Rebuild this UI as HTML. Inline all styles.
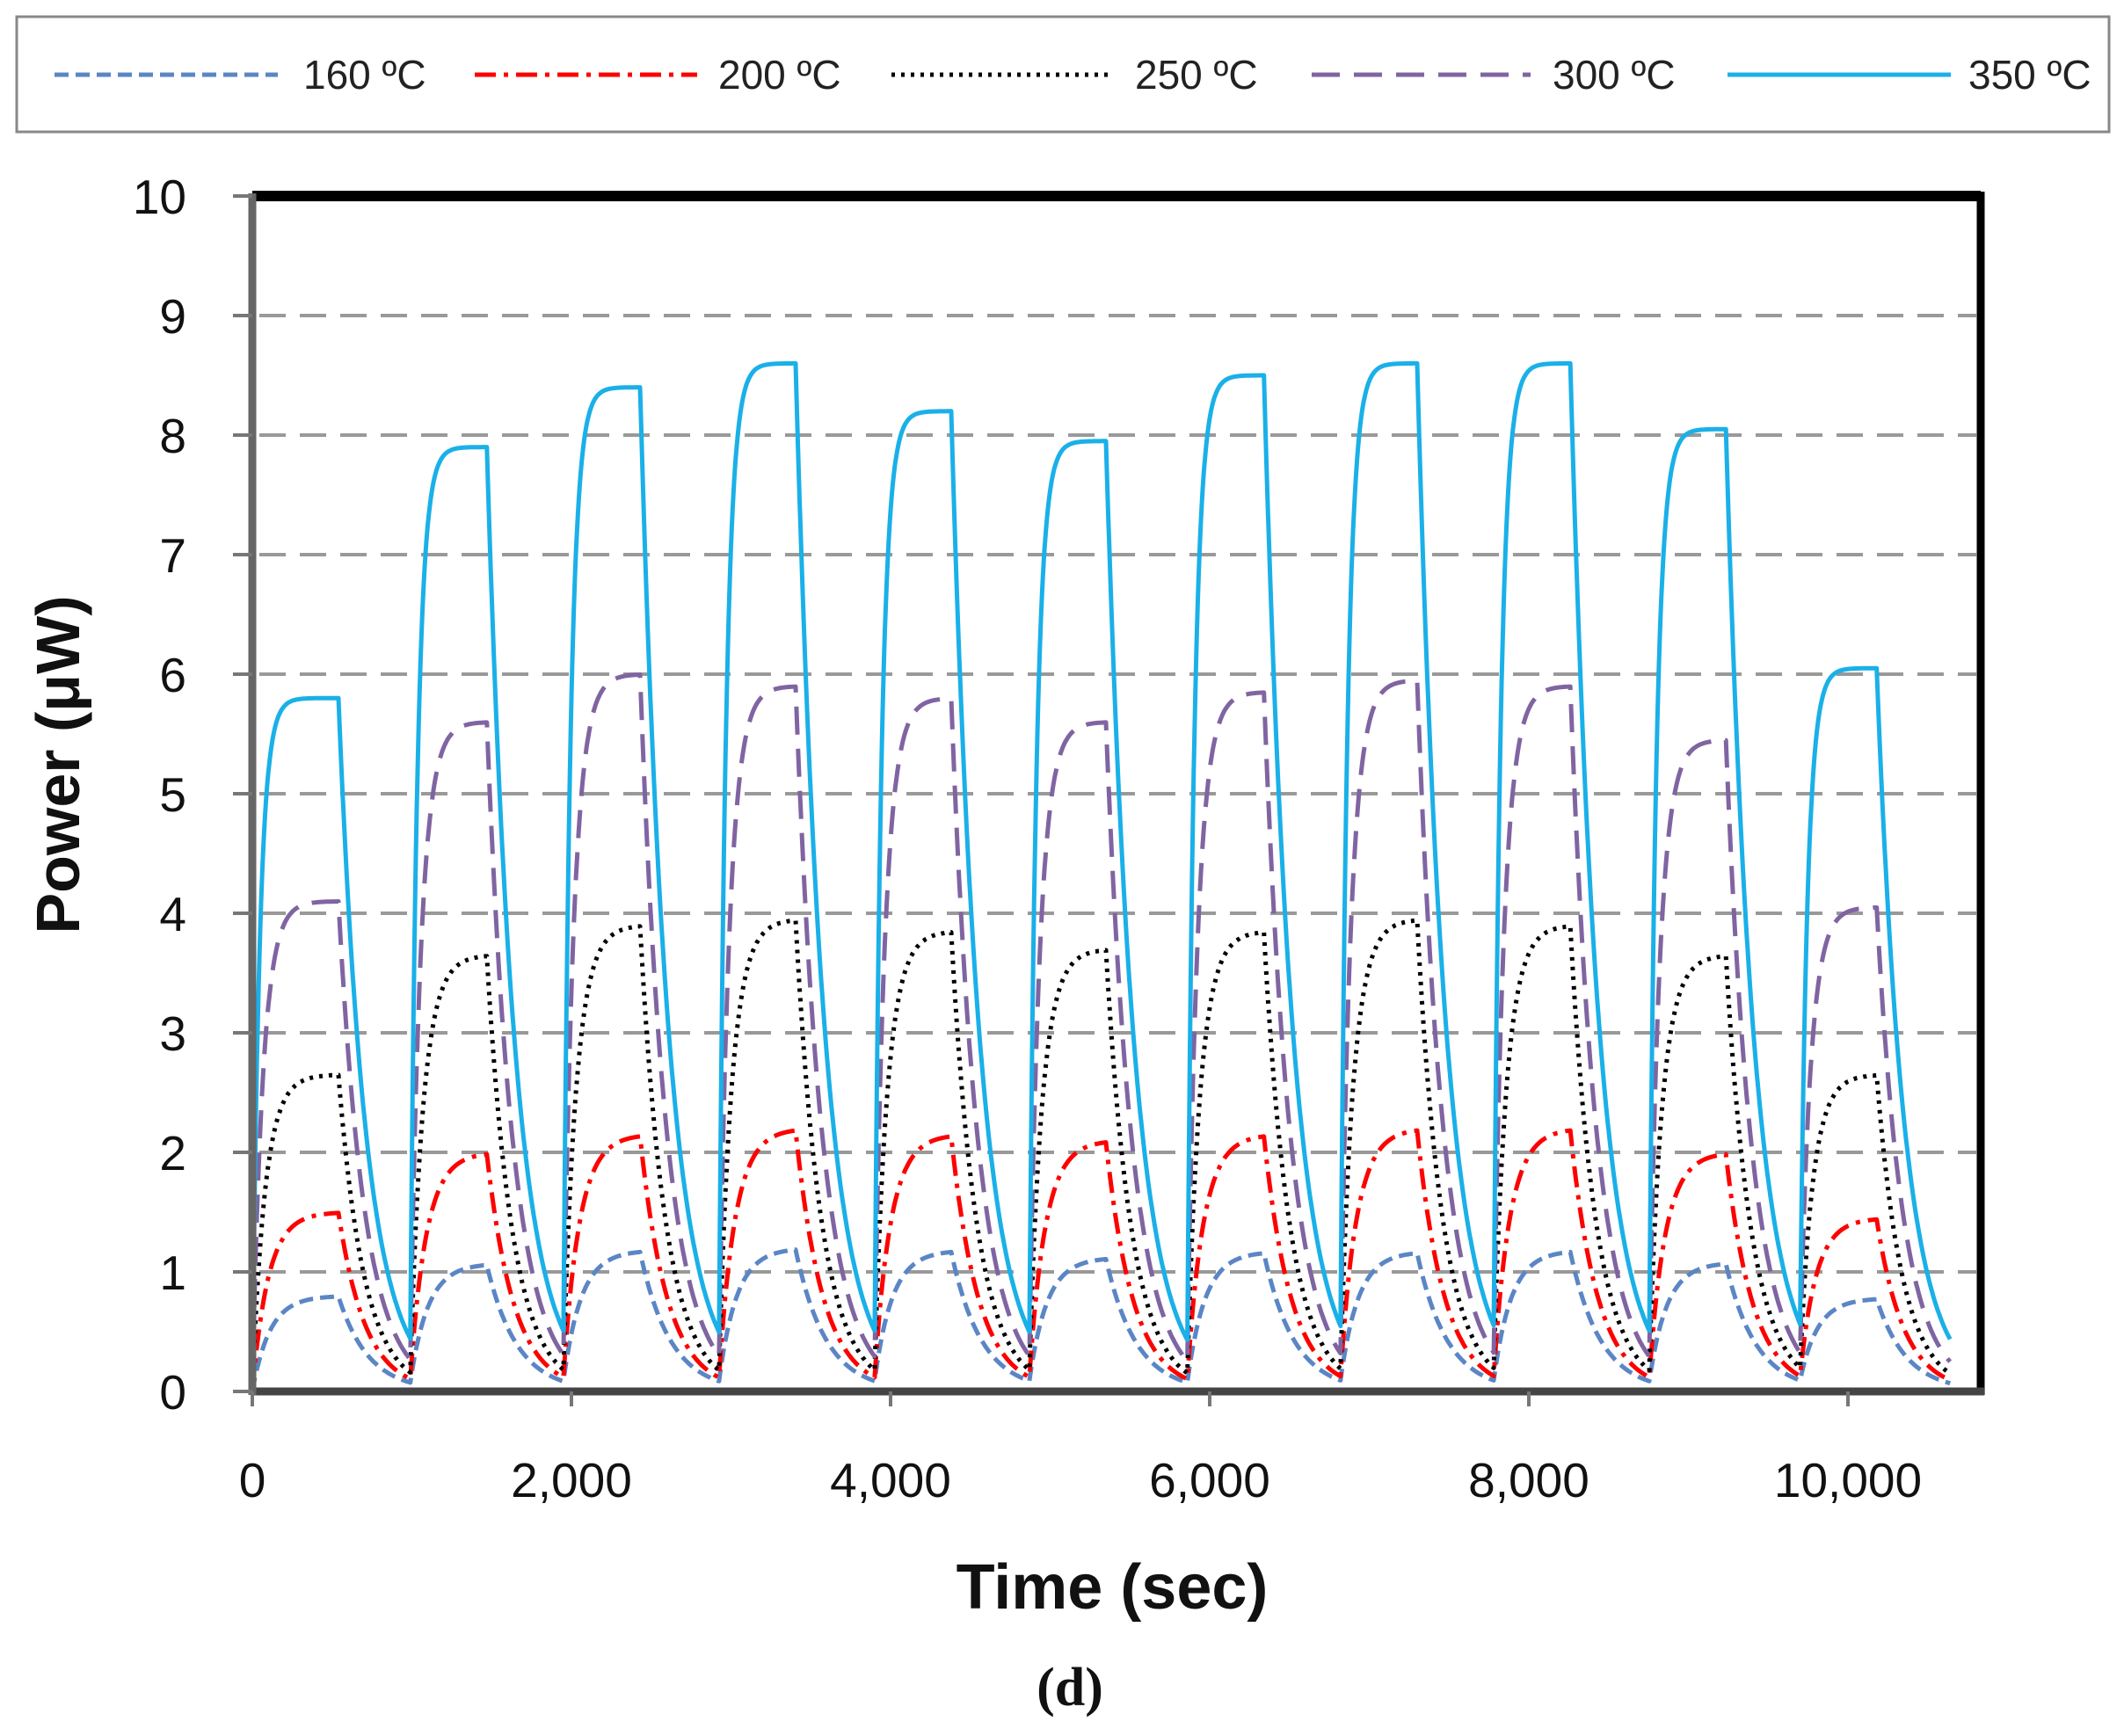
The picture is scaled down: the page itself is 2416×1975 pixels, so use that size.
<!DOCTYPE html>
<html><head><meta charset="utf-8"><style>
html,body{margin:0;padding:0;background:#fff;}
svg{display:block;}
text{font-family:"Liberation Sans","DejaVu Sans",sans-serif;}
</style></head><body>
<svg id="s" width="2416" height="1975" viewBox="0 0 2416 1975" xmlns="http://www.w3.org/2000/svg">
<rect width="2416" height="1975" fill="#fff"/>
<rect x="19" y="19" width="2380" height="131" fill="#fff" stroke="#888" stroke-width="3"/>
<g stroke-width="5" fill="none">
<line x1="62" y1="85" x2="316" y2="85" stroke="#5b86c5" stroke-dasharray="16,8"/>
<line x1="540" y1="85" x2="793" y2="85" stroke="#ff0000" stroke-dasharray="24,9,5,9"/>
<line x1="1014" y1="85" x2="1264" y2="85" stroke="#000" stroke-dasharray="4,7"/>
<line x1="1492" y1="85" x2="1741" y2="85" stroke="#8064a2" stroke-dasharray="32,16"/>
<line x1="1965" y1="85" x2="2219" y2="85" stroke="#1ab0e8"/>
</g>
<g font-size="46" fill="#222">
<text x="345" y="101">160 ºC</text>
<text x="817" y="101">200 ºC</text>
<text x="1291" y="101">250 ºC</text>
<text x="1766" y="101">300 ºC</text>
<text x="2239" y="101">350 ºC</text>
</g>
<g id="grid" stroke="#999" stroke-width="4" stroke-dasharray="30,16"></g>
<g id="series" fill="none" stroke-width="5" stroke-linejoin="round"></g>
<line x1="287" y1="223" x2="2253" y2="223" stroke="#000" stroke-width="12"/>
<line x1="2253" y1="218" x2="2253" y2="1587" stroke="#000" stroke-width="9"/>
<line x1="287" y1="1583" x2="2257" y2="1583" stroke="#444" stroke-width="9"/>
<line x1="287" y1="220" x2="287" y2="1587" stroke="#666" stroke-width="9"/>
<g id="ticks" stroke="#777" stroke-width="4"></g>
<g id="ylab" font-size="55" fill="#111" text-anchor="end"></g>
<g id="xlab" font-size="55" fill="#111" text-anchor="middle"></g>
<text x="0" y="0" font-size="70" font-weight="bold" text-anchor="middle" transform="translate(90,870) rotate(-90)" fill="#111">Power (μW)</text>
<text x="1265" y="1830" font-size="72" font-weight="bold" text-anchor="middle" fill="#111">Time (sec)</text>
<text x="1217" y="1940" font-size="62" font-weight="bold" text-anchor="middle" fill="#111" style="font-family:'Liberation Serif',serif">(d)</text>
</svg>
<script>
var NS="http://www.w3.org/2000/svg";
function el(p,t,a,txt){var e=document.createElementNS(NS,t);for(var k in a)e.setAttribute(k,a[k]);if(txt!==undefined)e.textContent=txt;document.getElementById(p).appendChild(e);return e;}
var X0=287,XS=0.1815,Y0=1583,YS=136;
function X(t){return X0+t*XS;} function Y(v){return Y0-v*YS;}
for(var i=1;i<=9;i++){el("grid","line",{x1:295,y1:Y(i),x2:2248,y2:Y(i)});}
for(var i=0;i<=10;i++){el("ticks","line",{x1:265,y1:Y(i),x2:287,y2:Y(i)});el("ylab","text",{x:212,y:Y(i)+20},String(i));}
var xl=["0","2,000","4,000","6,000","8,000","10,000"];
for(var i=0;i<6;i++){el("xlab","text",{x:X(i*2000),y:1703},xl[i]);el("ticks","line",{x1:X(i*2000),y1:1583,x2:X(i*2000),y2:1600});}
var m=[0,990,1950,2925,3900,4870,5860,6820,7780,8755,9700,10640];
var series=[
 {c:"#5b86c5",d:"16,8",p:[0.8,1.07,1.18,1.2,1.18,1.12,1.17,1.17,1.18,1.08,0.78],tau:190,tr:110},
 {c:"#ff0000",d:"24,9,5,9",p:[1.5,2.0,2.15,2.2,2.15,2.1,2.15,2.2,2.2,2.0,1.45],tau:170,tr:100},
 {c:"#000000",d:"4,7",p:[2.65,3.65,3.9,3.95,3.85,3.7,3.85,3.95,3.9,3.65,2.65],tau:160,tr:80},
 {c:"#8064a2",d:"32,16",p:[4.1,5.6,6.0,5.9,5.8,5.6,5.85,5.95,5.9,5.45,4.05],tau:165,tr:65},
 {c:"#1ab0e8",d:"",p:[5.8,7.9,8.4,8.6,8.2,7.95,8.5,8.6,8.6,8.05,6.05],tau:175,tr:45}
];
series.forEach(function(s){
 var pts=[],v=0;
 for(var k=0;k<11;k++){
  var a=m[k],b=m[k+1],on=(k==0?540:480),start=v,pk=s.p[k],dec=0;
  for(var t=a;t<=b;t+=5){
   var r=t-a,val;
   if(r<=on){val=start+(pk-start)*(1-Math.exp(-r/s.tr));dec=val;}
   else{val=dec*Math.exp(-(r-on)/s.tau);}
   pts.push(X(t).toFixed(1)+","+Y(val).toFixed(1));v=val;
  }
 }
 var a={points:pts.join(" "),stroke:s.c};
 if(s.d)a["stroke-dasharray"]=s.d;
 el("series","polyline",a);
});
</script>
</body></html>
